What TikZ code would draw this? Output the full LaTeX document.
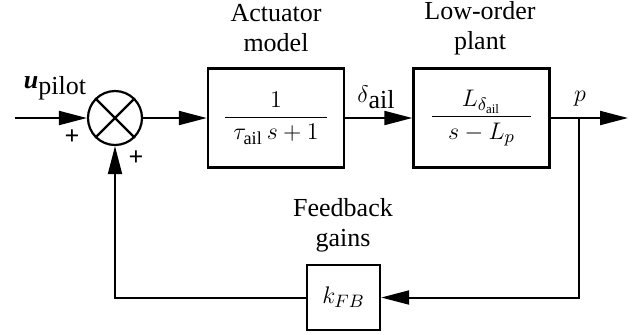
\documentclass[tikz,border=0pt]{standalone}
\usepackage{amsmath,bm}
\usepackage{fontspec}
\setmainfont{Liberation Serif}
\usepackage{tikz}
\usetikzlibrary{positioning,arrows.meta,calc}

\begin{document}
\begin{tikzpicture}[
  >={Triangle[length=14pt,width=7pt]},
  x=0.5pt,y=-0.5pt,
  font=\fontsize{13}{15}\selectfont,
  block/.style={draw, line width=1.2pt, align=center,
    minimum width=68pt, minimum height=49.5pt, inner sep=0pt},
  gain/.style={draw, line width=1.2pt, align=center,
    minimum width=36.5pt, minimum height=32.5pt, inner sep=0pt},
  sumnode/.style={draw, circle, line width=1.1pt, minimum size=27pt, inner sep=0pt},
  sig/.style={line width=1pt},
  note/.style={align=center}
]
\useasboundingbox (0,0) rectangle (642,334);

% forward path
\node[sumnode] (sum) at (115,118) {};
\draw[line width=1.1pt] (sum.north west) -- (sum.south east);
\draw[line width=1.1pt] (sum.north east) -- (sum.south west);
\node[block] (act) at (276,118)
  {$\dfrac{1}{\hphantom{i}\tau_{\mathrm{ail}}\,s+1\hphantom{i}}$};
\node[block] (plant) at (481.5,118)
  {$\dfrac{L_{\delta_{\mathrm{ail}}}}{\hspace{8pt}s-L_p\hspace{8pt}}$};

% feedback gain
\node[gain] (fb) at (343.5,297.5) {$k_{FB}$};

% captions
\node[note] (actcap) at (276,28) {Actuator\\model};
\node[note] (plantcap) at (480,28) {Low-order\\plant};
\node[note] (fbcap) at (343,225) {Feedback\\gains};

% signal labels
\node (upilot) at (55,88) {\textbf{\textit{u}}\raisebox{-3pt}{pilot}};
\node (dail) at (376,97) {$\delta$\raisebox{-3pt}{ail}};
\node (pout) at (580,99) {$p$};
\node (plus1) at (72,137) {\textbf{+}};
\node (plus2) at (136,158) {\textbf{+}};

% connectors
\coordinate (in) at (15,118);
\coordinate (br) at (579,118);
\coordinate (out) at (628,118);
\draw[->, sig] (in) -- (sum.west);
\draw[->, sig] (sum.east) -- (act.west);
\draw[->, sig] (act.east) -- (plant.west);
\draw[->, sig] (plant.east) -- (out);
\draw[->, sig] (br) |- (fb.east);
\draw[->, sig] (fb.west) -| (sum.south);

\end{tikzpicture}
\end{document}
